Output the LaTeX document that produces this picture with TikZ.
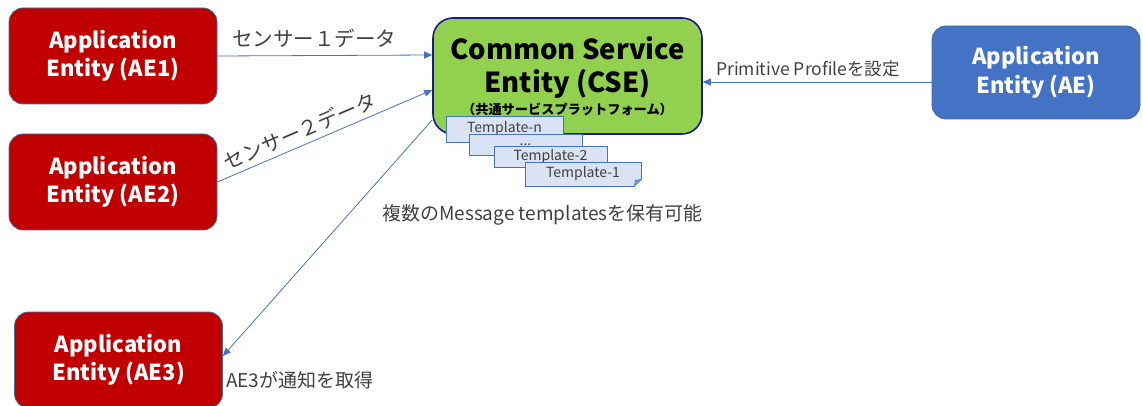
\documentclass[tikz,border=0pt]{standalone}
\usepackage{fontspec}
\setmainfont{Noto Sans CJK JP}
\usetikzlibrary{arrows.meta,calc}
\definecolor{aered}{HTML}{C00000}
\definecolor{aeline}{HTML}{41719C}
\definecolor{csegreen}{HTML}{92D050}
\definecolor{csenavy}{HTML}{1A1A8C}
\definecolor{aeblue}{HTML}{4472C4}
\definecolor{tplfill}{HTML}{DAE3F3}
\definecolor{tplline}{HTML}{4472C4}
\definecolor{lbl}{HTML}{404040}
\begin{document}
\begin{tikzpicture}[x=1pt,y=-1pt,
  aebox/.style={rounded corners=14pt, draw=aeline, line width=0.8pt, fill=aered,
    text=white, align=center, font=\fontsize{22}{28.5}\selectfont\bfseries,
    minimum width=208pt, minimum height=96pt, inner sep=0pt},
  cseblock/.style={rounded corners=20pt, draw=csenavy, line width=1.6pt, fill=csegreen,
    text=black, align=center, font=\fontsize{27.5}{33}\selectfont\bfseries,
    minimum width=269pt, minimum height=116pt, inner sep=0pt},
  tpl/.style={draw=tplline, line width=0.7pt, fill=tplfill, text=lbl,
    font=\fontsize{14}{16}\selectfont, inner sep=0pt},
  conn/.style={draw=aeblue, line width=0.8pt, -{Triangle[length=8pt,width=7pt]}},
  lab/.style={text=lbl, font=\fontsize{19}{22}\selectfont, inner sep=0pt},
  sensorlab/.style={text=lbl, font=\fontsize{20.5}{24}\selectfont, inner sep=0pt},
  smalllab/.style={text=lbl, font=\fontsize{17.5}{20}\selectfont, inner sep=0pt}]
\useasboundingbox (0,0) rectangle (1143,406);
\clip (0,0) rectangle (1143,406);

% application entities
\node[aebox] (ae1) at (113,56) {Application\\Entity (AE1)};
\node[aebox] (ae2) at (113,182) {Application\\Entity (AE2)};
\node[aebox] (ae3) at (118.5,360) {Application\\Entity (AE3)};
\node[aebox, fill=aeblue, minimum height=93pt] (ae) at (1036,72.5) {Application\\Entity (AE)};

% common service entity
\node[cseblock] (cse) at (567.5,76)
  {Common Service\\Entity (CSE)\\[-11pt]{\fontsize{13.2}{15}\selectfont （共通サービスプラットフォーム）}};

% stacked message templates
\node[tpl, minimum width=117pt, minimum height=26pt] (tn) at (504.5,129) {Template-n};
\node[tpl, minimum width=113pt, minimum height=21pt] (tdots) at (525.5,144.5) {...};
\node[tpl, minimum width=113pt, minimum height=21pt] (t2) at (550.5,156.5) {Template-2};
\node[tpl, minimum width=116pt, minimum height=24pt] (t1) at (583,174) {Template-1};
\fill[white] ($(t1.south east)+(-7,0.5)$) -- ($(t1.south east)+(0.5,0.5)$) -- ($(t1.south east)+(0.5,-7)$) -- cycle;
\filldraw[fill=tplline!70, draw=tplline, line width=0.5pt]
  ($(t1.south east)+(-7,0)$) -- ($(t1.south east)+(0,-7)$) -- ($(t1.south east)+(-6,-6)$) -- cycle;

% connectors
\draw[conn] (ae1.east) -- node[sensorlab, pos=0.45, above=7pt] {センサー１データ} ([yshift=21pt]cse.west);
\draw[conn] (ae2.east) -- node[sensorlab, pos=0.41, sloped, above=5pt] {センサー２データ} ([yshift=-14pt]cse.west);
\draw[conn] ([yshift=-44pt]cse.west) -- ([yshift=4pt]ae3.east);
\draw[conn] ([yshift=-9.5pt]ae.west) -- node[smalllab, pos=0.54, above=5pt] {Primitive Profileを設定} ([yshift=-9.5pt]ae.west -| cse.east);

% free labels
\node[lab, anchor=west] (notify) at ([xshift=3pt,yshift=-20pt]ae3.east) {AE3が通知を取得};
\node[lab, anchor=west] (multi) at (382,215) {複数のMessage templatesを保有可能};
\end{tikzpicture}
\end{document}
